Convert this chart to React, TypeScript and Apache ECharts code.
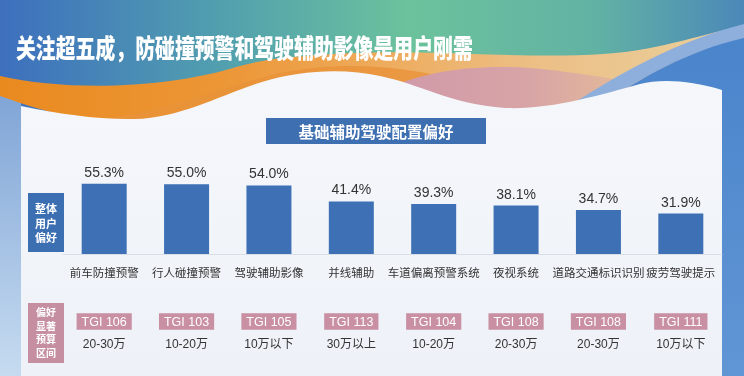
import React, { useEffect, useRef } from "react";
import * as echarts from "echarts";

const categories = ["前车防撞预警", "行人碰撞预警", "驾驶辅助影像", "并线辅助", "车道偏离预警系统", "夜视系统", "道路交通标识识别", "疲劳驾驶提示"];
const shares = [55.3, 55.0, 54.0, 41.4, 39.3, 38.1, 34.7, 31.9];
const tgi = [106, 103, 105, 113, 104, 108, 108, 111];
const budgets = ["20-30万", "10-20万", "10万以下", "30万以上", "10-20万", "20-30万", "20-30万", "10万以下"];

const titleText = "关注超五成，防碰撞预警和驾驶辅助影像是用户刚需";
const subTitle = "基础辅助驾驶配置偏好";
const leftTop = ["整体", "用户", "偏好"];
const leftBottom = ["偏好", "显著", "预算", "区间"];

const CJK = '"Noto Sans CJK SC", "Noto Sans", sans-serif';
const NUM = '"Liberation Sans", Arial, "Noto Sans CJK SC", sans-serif';

let registered = false;
function registerShapes() {
  if (registered) return;
  registered = true;
  const g = echarts.graphic as any;
  g.registerShape("bandOrange", g.extendPath("M0,76 C70,92 170,88 240,66 C270,58 290,57 320,55 C430,45 560,66 650,48 C690,40 720,30 744,26 L744,125 L140,125 C80,123 40,110 0,96 Z", {}));
  g.registerShape("bandDark", g.extendPath("M70,122 C150,118 215,90 275,74 C340,60 400,66 450,78 L450,125 L70,125 Z", {}));
  g.registerShape("bandPink", g.extendPath("M380,92 C420,72 470,64 530,68 C580,72 610,80 655,84 L655,118 L380,118 Z", {}));
  g.registerShape("blueLight", g.extendPath("M560,112 C620,72 680,40 744,24 L744,40 C690,50 640,78 600,106 Z", {}));
  g.registerShape("blueRight", g.extendPath("M600,106 C640,78 690,50 744,38 L744,376 L700,376 Z", {}));
  g.registerShape("whitePanel", g.extendPath("M21,376 L21,106 C60,114 100,120 135,119 C180,118 220,95 262,82 C300,70 345,68 380,76 C420,84 450,104 505,108 C550,110 600,95 640,84 C660,79 690,80 722,90 L722,376 Z", {}));
}

function stackedText(lines: string[], cx: number, firstY: number, step: number, size: number) {
  return lines.map((t, i) => ({
    type: "text", z: 6, silent: true,
    x: cx, y: firstY + i * step,
    style: { text: t, fill: "#fff", font: `bold ${size}px ${CJK}`, align: "center", verticalAlign: "middle" },
  }));
}

export default function App() {
  const ref = useRef<HTMLDivElement>(null);
  useEffect(() => {
    if (!ref.current) return;
    registerShapes();
    const chart = echarts.init(ref.current, undefined, { renderer: "svg" });
    const LG = echarts.graphic.LinearGradient;
    chart.setOption({
      animation: false,
      grid: { left: 63, right: 22, top: 127, bottom: 122, containLabel: false },
      xAxis: [
        {
          type: "category",
          data: categories,
          position: "bottom",
          axisLine: { show: true, lineStyle: { color: "#d9dee6", width: 1 } },
          axisTick: { show: false },
          axisLabel: { margin: 12, fontSize: 11.5, color: "#333", fontFamily: CJK, interval: 0 },
        },
        {
          type: "category",
          data: categories,
          position: "bottom",
          axisLine: { show: false },
          axisTick: { show: false },
          axisLabel: {
            margin: 58,
            interval: 0,
            formatter: (_v: string, i: number) => `{t|TGI ${tgi[i]}}\n{r|${budgets[i]}}`,
            rich: {
              t: { fontSize: 12.5, lineHeight: 19, color: "#fff", backgroundColor: "#c98fa3", padding: [2, 5, 2, 5], fontFamily: NUM },
              r: { fontSize: 12, lineHeight: 26, color: "#333", fontFamily: NUM },
            },
          },
        },
      ],
      yAxis: { type: "value", min: 0, max: 100, show: false },
      series: [
        {
          type: "bar",
          data: shares,
          barWidth: 45,
          itemStyle: { color: "#3d70b4" },
          label: {
            show: true,
            position: "top",
            distance: 5,
            fontSize: 14,
            color: "#333",
            fontFamily: NUM,
            formatter: (p: any) => p.value.toFixed(1) + "%",
          },
        },
      ],
      graphic: [
        {
          type: "rect", z: -10, silent: true,
          shape: { x: 0, y: 0, width: 744, height: 376 },
          style: { fill: new LG(0, 0, 1, 0, [
            { offset: 0, color: "#3d6fbe" },
            { offset: 0.3, color: "#52a0ae" },
            { offset: 0.55, color: "#6cc29c" },
            { offset: 0.8, color: "#62b2a4" },
            { offset: 1, color: "#4b88b8" },
          ]) },
        },
        {
          type: "rect", z: -9, silent: true,
          shape: { x: 0, y: 90, width: 21, height: 286 },
          style: { fill: new LG(0, 0, 0, 1, [
            { offset: 0, color: "#7fa4d6" },
            { offset: 1, color: "#c6dbf0" },
          ]) },
        },
        {
          type: "bandOrange", z: -8, silent: true,
          style: { fill: new LG(0, 0, 1, 0, [
            { offset: 0, color: "#e98a1f" },
            { offset: 0.3, color: "#ec9636" },
            { offset: 0.5, color: "#eeaa5a" },
            { offset: 0.72, color: "#ecbf86" },
            { offset: 1, color: "#e9d09c" },
          ]) },
        },
        { type: "bandDark", z: -7, silent: true, style: { fill: "#e8923a", opacity: 0.8 } },
        {
          type: "bandPink", z: -7, silent: true,
          style: { fill: new LG(0, 0, 1, 0, [
            { offset: 0, color: "#cf98a9" },
            { offset: 0.55, color: "#d8a5a6" },
            { offset: 1, color: "#e7bf94" },
          ]) },
        },
        { type: "blueLight", z: -6, silent: true, style: { fill: "#8eaedc" } },
        {
          type: "blueRight", z: -6, silent: true,
          style: { fill: new LG(0, 0, 0, 1, [
            { offset: 0, color: "#4a84cb" },
            { offset: 1, color: "#6196d5" },
          ]) },
        },
        {
          type: "whitePanel", z: -5, silent: true,
          style: { fill: new LG(0, 0, 0, 1, [
            { offset: 0, color: "#f5f7fb" },
            { offset: 1, color: "#eef2f8" },
          ]) },
        },
        {
          type: "text", z: 10, silent: true,
          x: 16, y: 47, scaleX: 0.75,
          style: {
            text: titleText, fill: "#ffffff", font: `900 26.5px ${CJK}`,
            textVerticalAlign: "middle", verticalAlign: "middle",
            shadowColor: "rgba(40,40,60,0.65)", shadowOffsetX: 1.5, shadowOffsetY: 1.5, shadowBlur: 1.5,
          },
        },
        {
          type: "rect", z: 5, silent: true,
          shape: { x: 266, y: 118, width: 220, height: 26 },
          style: { fill: "#3e6fb1" },
        },
        {
          type: "text", z: 6, silent: true,
          x: 376, y: 131,
          style: { text: subTitle, fill: "#fff", font: `bold 15.5px ${CJK}`, align: "center", verticalAlign: "middle" },
        },
        {
          type: "rect", z: 5, silent: true,
          shape: { x: 28, y: 193, width: 36, height: 59 },
          style: { fill: "#3c6fb2" },
        },
        ...stackedText(leftTop, 46, 208, 14.5, 11),
        {
          type: "rect", z: 5, silent: true,
          shape: { x: 28, y: 303, width: 36, height: 60 },
          style: { fill: "#c58fa1" },
        },
        ...stackedText(leftBottom, 46, 311.5, 13.5, 10),
      ],
    });
    return () => chart.dispose();
  }, []);
  return <div ref={ref} style={{ position: "fixed", left: 0, top: 0, width: 744, height: 376 }} />;
}
